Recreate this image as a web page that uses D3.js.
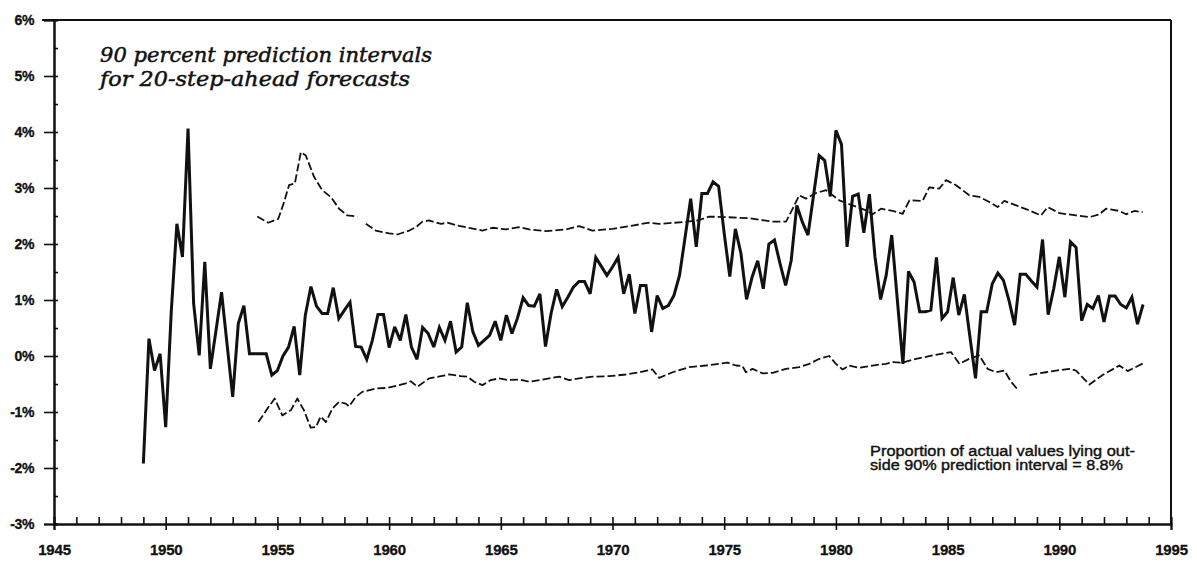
<!DOCTYPE html>
<html>
<head>
<meta charset="utf-8">
<script src="https://cdn.jsdelivr.net/npm/d3@7"></script>
<style>
  body { margin: 0; background: #fff; }
  svg { display: block; }
</style>
</head>
<body>
<svg class="chart"></svg>
<script>
// Total dimensions
var w = 1197,
    h = 564;

// Quarterly actual values, starting 1949 Q1 (percent)
var startYear = 1949;
var actual = [
  -1.92, 0.31, -0.26, 0.04, -1.27, 0.8, 2.36, 1.77, 4.06, 0.94,
  0.01, 1.68, -0.23, 0.45, 1.14, 0.2, -0.73, 0.58, 0.9, 0.04,
  0.04, 0.04, 0.04, -0.34, -0.26, 0.0, 0.16, 0.53, -0.34, 0.73,
  1.24, 0.89, 0.76, 0.76, 1.22, 0.67, 0.82, 0.96, 0.17, 0.16,
  -0.06, 0.28, 0.74, 0.74, 0.15, 0.52, 0.28, 0.74, 0.16, -0.06,
  0.51, 0.4, 0.16, 0.51, 0.28, 0.62, 0.07, 0.16, 0.95, 0.43,
  0.19, 0.28, 0.37, 0.62, 0.28, 0.73, 0.4, 0.68, 1.04, 0.9,
  0.89, 1.11, 0.17, 0.76, 1.19, 0.88, 1.05, 1.23, 1.33, 1.33,
  1.11, 1.76, 1.6, 1.44, 1.59, 1.76, 1.11, 1.46, 0.76, 1.26,
  1.26, 0.43, 1.08, 0.85, 0.9, 1.08, 1.44, 2.12, 2.81, 1.95,
  2.9, 2.9, 3.11, 3.03, 2.19, 1.42, 2.27, 1.83, 1.01, 1.41,
  1.7, 1.2, 2.0, 2.07, 1.65, 1.26, 1.71, 2.69, 2.39, 2.16,
  2.87, 3.58, 3.49, 2.85, 4.03, 3.78, 1.95, 2.85, 2.89, 2.2,
  2.89, 1.77, 1.01, 1.44, 2.16, 1.0, -0.14, 1.51, 1.32, 0.79,
  0.79, 0.82, 1.76, 0.67, 0.79, 1.4, 0.73, 1.1, 0.34, -0.4,
  0.79, 0.79, 1.29, 1.48, 1.35, 0.99, 0.55, 1.46, 1.46, 1.34,
  1.23, 2.08, 0.74, 1.2, 1.77, 1.05, 2.04, 1.94, 0.63, 0.92,
  0.85, 1.08, 0.61, 1.07, 1.07, 0.92, 0.86, 1.05, 0.57, 0.92
];

// Upper limit of the 90% prediction interval [year, percent]
var upperBand = [
  [1954.10, 2.49], [1954.59, 2.38], [1955.04, 2.45], [1955.30, 2.75], [1955.52, 3.05],
  [1955.78, 3.08], [1956.05, 3.64], [1956.27, 3.58], [1956.64, 3.2], [1957.01, 2.96],
  [1957.39, 2.84], [1957.76, 2.63], [1958.13, 2.51], [1958.58, 2.49], [1958.78, null],
  [1958.96, 2.36], [1959.40, 2.24], [1960.00, 2.19], [1960.37, 2.17], [1960.90, 2.24],
  [1961.20, 2.3], [1961.49, 2.4], [1961.79, 2.42], [1962.32, 2.36], [1962.61, 2.38],
  [1963.06, 2.33], [1963.58, 2.29], [1964.18, 2.24], [1964.63, 2.29], [1965.23, 2.26],
  [1965.82, 2.3], [1966.27, 2.26], [1967.02, 2.23], [1967.91, 2.26], [1968.51, 2.32],
  [1969.10, 2.24], [1970.00, 2.27], [1970.90, 2.33], [1971.64, 2.38], [1972.09, 2.36],
  [1973.13, 2.39], [1973.81, 2.42], [1974.33, 2.49], [1975.08, 2.48], [1976.12, 2.46],
  [1977.17, 2.4], [1977.77, 2.4], [1978.14, 2.69], [1978.36, 2.87], [1978.66, 2.81],
  [1979.11, 2.91], [1979.56, 2.96], [1980.15, 2.78], [1980.75, 2.69], [1981.35, 2.6],
  [1981.64, 2.53], [1982.02, 2.63], [1982.54, 2.59], [1982.99, 2.54], [1983.29, 2.78],
  [1983.88, 2.77], [1984.18, 3.01], [1984.63, 2.99], [1984.93, 3.14], [1985.38, 3.05],
  [1985.97, 2.87], [1986.42, 2.84], [1986.87, 2.75], [1987.24, 2.66], [1987.54, 2.77],
  [1988.07, 2.69], [1988.66, 2.6], [1989.18, 2.51], [1989.48, 2.66], [1990.01, 2.55],
  [1990.75, 2.51], [1991.35, 2.48], [1991.79, 2.53], [1992.09, 2.63], [1992.69, 2.59],
  [1992.99, 2.53], [1993.36, 2.59], [1993.73, 2.57]
];

// Lower limit of the 90% prediction interval [year, percent]
var lowerBand = [
  [1954.15, -1.18], [1954.55, -0.94], [1954.88, -0.76], [1955.22, -1.06], [1955.60, -0.97],
  [1955.89, -0.76], [1956.19, -0.97], [1956.49, -1.28], [1956.72, -1.27], [1956.94, -1.08],
  [1957.17, -1.18], [1957.46, -0.94], [1957.76, -0.82], [1958.06, -0.85], [1958.21, -0.9],
  [1958.51, -0.73], [1958.80, -0.64], [1959.40, -0.58], [1959.92, -0.57], [1960.75, -0.49],
  [1960.97, -0.45], [1961.27, -0.55], [1961.79, -0.4], [1962.32, -0.36], [1962.69, -0.33],
  [1963.21, -0.36], [1963.51, -0.37], [1963.81, -0.46], [1964.18, -0.52], [1964.55, -0.43],
  [1964.93, -0.4], [1965.30, -0.43], [1965.82, -0.42], [1966.27, -0.46], [1966.87, -0.42],
  [1967.61, -0.37], [1968.06, -0.43], [1968.51, -0.4], [1969.10, -0.37], [1969.85, -0.36],
  [1970.60, -0.33], [1971.20, -0.29], [1971.79, -0.24], [1972.09, -0.39], [1972.69, -0.29],
  [1973.43, -0.2], [1974.18, -0.17], [1975.15, -0.12], [1975.53, -0.17], [1975.82, -0.18],
  [1975.97, -0.29], [1976.27, -0.23], [1976.72, -0.31], [1977.17, -0.3], [1977.77, -0.23],
  [1978.36, -0.2], [1978.81, -0.14], [1979.26, -0.05], [1979.70, 0.0], [1980.00, -0.14],
  [1980.30, -0.24], [1980.60, -0.17], [1981.05, -0.21], [1981.64, -0.17], [1982.24, -0.14],
  [1982.54, -0.11], [1982.99, -0.12], [1983.59, -0.05], [1984.33, 0.01], [1985.15, 0.07],
  [1985.53, -0.14], [1985.97, -0.05], [1986.42, 0.01], [1986.79, -0.23], [1987.17, -0.29],
  [1987.54, -0.26], [1987.84, -0.46], [1988.14, -0.6], [1988.40, null], [1988.66, -0.34],
  [1989.41, -0.29], [1989.86, -0.26], [1990.45, -0.23], [1990.75, -0.26], [1991.35, -0.51],
  [1991.94, -0.34], [1992.69, -0.17], [1993.06, -0.27], [1993.81, -0.12]
];

// Tick values
var yMajor = [-3, -2, -1, 0, 1, 2, 3, 4, 5, 6];
var yMinor = d3.range(-3, 6.01, 0.5);
var xMajor = [1945, 1950, 1955, 1960, 1965, 1970, 1975, 1980, 1985, 1990, 1995];
var xMinor = d3.range(1945, 1996, 1);

var titleLines = ["90 percent prediction intervals", "for 20-step-ahead forecasts"];
var noteLines = ["Proportion of actual values lying out-", "side 90% prediction interval = 8.8%"];

var svg = d3.select(".chart")
    .attr("width", w)
    .attr("height", h);

var xScale = d3.scaleLinear()
    .domain([1945, 1995])
    .range([54, 1171]);

var yScale = d3.scaleLinear()
    .domain([-3, 6])
    .range([524, 20]);

var ink = "#111";

// Frame: top and right borders
svg.append("line")
    .attr("x1", 42).attr("x2", xScale(1995))
    .attr("y1", yScale(6)).attr("y2", yScale(6))
    .attr("stroke", ink).attr("stroke-width", 2);
svg.append("line")
    .attr("x1", xScale(1995)).attr("x2", xScale(1995))
    .attr("y1", yScale(6)).attr("y2", yScale(-3))
    .attr("stroke", ink).attr("stroke-width", 2);

// y axis: labelled majors outside, half-percent marks inside
var yAxis = d3.axisLeft(yScale)
    .tickValues(yMajor)
    .tickSize(10)
    .tickPadding(10)
    .tickFormat(function(d) { return d + "%"; });

var gy = svg.append("g")
    .attr("transform", "translate(" + xScale(1945) + ",0)")
    .call(yAxis);

svg.append("g")
    .attr("transform", "translate(" + xScale(1945) + ",0)")
    .call(d3.axisRight(yScale).tickValues(yMinor).tickSize(4).tickFormat(""));

// x axis: labelled majors below, yearly marks above
var xAxis = d3.axisBottom(xScale)
    .tickValues(xMajor)
    .tickSize(6)
    .tickPadding(14)
    .tickFormat(d3.format("d"));

var gx = svg.append("g")
    .attr("transform", "translate(0," + yScale(-3) + ")")
    .call(xAxis);

svg.append("g")
    .attr("transform", "translate(0," + yScale(-3) + ")")
    .call(d3.axisTop(xScale).tickValues(xMinor).tickSize(7).tickFormat(""));

svg.selectAll(".domain")
    .attr("stroke", ink)
    .attr("stroke-width", 2);
svg.selectAll(".tick line")
    .attr("stroke", ink)
    .attr("stroke-width", 1.6);

gy.selectAll("text")
    .attr("fill", ink)
    .attr("stroke", ink)
    .attr("stroke-width", 0.3)
    .attr("font-family", "Liberation Sans, Arial, sans-serif")
    .attr("font-weight", "bold")
    .attr("font-size", "14px")
    .attr("letter-spacing", "-0.4px");

gx.selectAll("text")
    .attr("fill", ink)
    .attr("stroke", ink)
    .attr("stroke-width", 0.3)
    .attr("font-family", "Liberation Sans, Arial, sans-serif")
    .attr("font-weight", "bold")
    .attr("font-size", "15px")
    .attr("letter-spacing", "-0.2px");

// Prediction interval limits (dashed)
var bandLine = d3.line()
    .defined(function(d) { return d[1] !== null; })
    .x(function(d) { return xScale(d[0]); })
    .y(function(d) { return yScale(d[1]); });

[upperBand, lowerBand].forEach(function(band) {
    svg.append("path")
        .datum(band)
        .attr("fill", "none")
        .attr("stroke", ink)
        .attr("stroke-width", 1.8)
        .attr("stroke-dasharray", "8,3")
        .attr("stroke-linejoin", "round")
        .attr("d", bandLine);
});

// Actual values (solid)
var line = d3.line()
    .x(function(d, i) { return xScale(startYear + i / 4); })
    .y(function(d) { return yScale(d); });

svg.append("path")
    .datum(actual)
    .attr("fill", "none")
    .attr("stroke", ink)
    .attr("stroke-width", 3)
    .attr("stroke-linejoin", "miter")
    .attr("stroke-miterlimit", 3)
    .attr("d", line);

// Title
var title = svg.append("text")
    .attr("font-family", "DejaVu Serif, serif")
    .attr("font-style", "italic")
    .attr("font-size", "21px")
    .attr("fill", ink)
    .attr("stroke", ink)
    .attr("stroke-width", 0.5);
title.append("tspan").attr("x", 100).attr("y", 62)
    .attr("textLength", 332).attr("lengthAdjust", "spacingAndGlyphs")
    .text(titleLines[0]);
title.append("tspan").attr("x", 100).attr("y", 86)
    .attr("textLength", 310).attr("lengthAdjust", "spacingAndGlyphs")
    .text(titleLines[1]);

// Note
var note = svg.append("text")
    .attr("font-family", "Liberation Sans, Arial, sans-serif")
    .attr("font-size", "14px")
    .attr("fill", ink)
    .attr("stroke", ink)
    .attr("stroke-width", 0.4);
note.append("tspan").attr("x", 870).attr("y", 456)
    .attr("textLength", 265).attr("lengthAdjust", "spacingAndGlyphs")
    .text(noteLines[0]);
note.append("tspan").attr("x", 870).attr("y", 470)
    .attr("textLength", 253).attr("lengthAdjust", "spacingAndGlyphs")
    .text(noteLines[1]);
</script>
</body>
</html>
